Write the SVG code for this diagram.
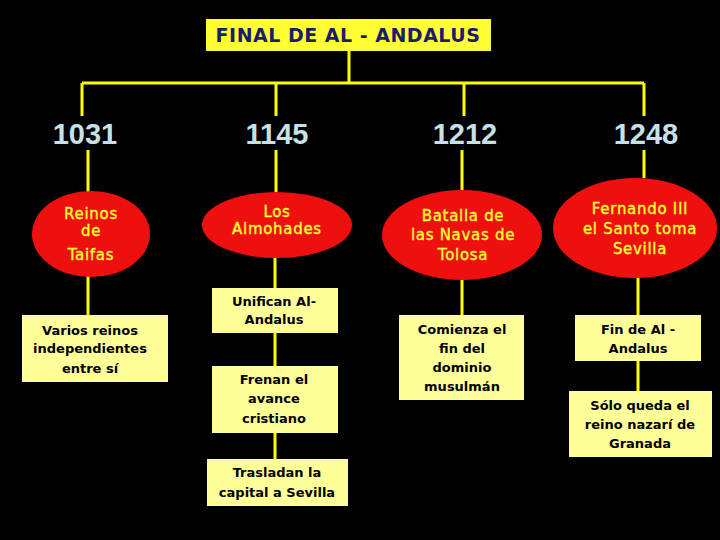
<svg xmlns="http://www.w3.org/2000/svg" width="720" height="540" viewBox="0 0 720 540">
<style>
.ln{stroke:#ffff00;stroke-width:3;fill:none}
.yr{font-family:"Liberation Sans",Arial,sans-serif;font-weight:bold;font-size:29px;fill:#c8e0e8;text-anchor:middle}
.el{fill:#f00f0f}
.et{font-family:"DejaVu Sans",sans-serif;font-size:15px;fill:#ffff33;stroke:#ffff33;stroke-width:0.35;text-anchor:middle;letter-spacing:0.7px}
.bx{fill:#ffff99}
.bt{font-family:"DejaVu Sans",sans-serif;font-weight:bold;font-size:13px;fill:#000;text-anchor:middle}
</style>
<rect width="720" height="540" fill="#000"/>
<g id="connectors">
<path class="ln" d="M349 51V83M82 83H644M82 83V116M276 83V116M464 83V116M644 83V116"/>
<path class="ln" d="M88 150V192M276 150V192M462 150V190M644 150V178"/>
<path class="ln" d="M88 276V315M275 257V288M275 333V366M275 433V459M462 280V315M638 277V315M638 361V391"/>
</g>
<g id="title">
<rect x="206" y="19" width="285" height="32" fill="#ffff33"/>
<text x="348" y="42" font-family="DejaVu Sans,sans-serif" font-size="19" font-weight="bold" fill="#1c1c6c" text-anchor="middle" letter-spacing="0.5">FINAL DE AL - ANDALUS</text>
</g>
<g id="y1031"><text class="yr" x="85" y="144">1031</text></g>
<g id="y1145"><text class="yr" x="277" y="144">1145</text></g>
<g id="y1212"><text class="yr" x="465" y="144">1212</text></g>
<g id="y1248"><text class="yr" x="646" y="144">1248</text></g>
<g id="e1">
<ellipse class="el" cx="91" cy="234" rx="59" ry="43"/>
<text class="et" x="91" y="219">Reinos</text>
<text class="et" x="91" y="236">de</text>
<text class="et" x="91" y="260">Taifas</text>
</g>
<g id="e2">
<ellipse class="el" cx="277" cy="225" rx="75" ry="33"/>
<text class="et" x="277" y="217">Los</text>
<text class="et" x="277" y="234">Almohades</text>
</g>
<g id="e3">
<ellipse class="el" cx="462" cy="235" rx="80" ry="45"/>
<text class="et" x="463" y="221">Batalla de</text>
<text class="et" x="463" y="240">las Navas de</text>
<text class="et" x="463" y="260">Tolosa</text>
</g>
<g id="e4">
<ellipse class="el" cx="635" cy="228" rx="82" ry="50"/>
<text class="et" x="640" y="214">Fernando III</text>
<text class="et" x="640" y="234">el Santo toma</text>
<text class="et" x="640" y="254">Sevilla</text>
</g>
<g id="b1">
<rect class="bx" x="22" y="315" width="146" height="67"/>
<text class="bt" x="90" y="335">Varios reinos</text>
<text class="bt" x="90" y="353">independientes</text>
<text class="bt" x="90" y="373">entre sí</text>
</g>
<g id="b2">
<rect class="bx" x="212" y="288" width="126" height="45"/>
<text class="bt" x="274" y="306">Unifican Al-</text>
<text class="bt" x="274" y="324">Andalus</text>
</g>
<g id="b3">
<rect class="bx" x="212" y="366" width="126" height="67"/>
<text class="bt" x="274" y="384">Frenan el</text>
<text class="bt" x="274" y="403">avance</text>
<text class="bt" x="274" y="423">cristiano</text>
</g>
<g id="b4">
<rect class="bx" x="207" y="459" width="141" height="47"/>
<text class="bt" x="277" y="477">Trasladan la</text>
<text class="bt" x="277" y="497">capital a Sevilla</text>
</g>
<g id="b5">
<rect class="bx" x="399" y="315" width="125" height="85"/>
<text class="bt" x="462" y="334">Comienza el</text>
<text class="bt" x="462" y="353">fin del</text>
<text class="bt" x="462" y="372">dominio</text>
<text class="bt" x="462" y="391">musulmán</text>
</g>
<g id="b6">
<rect class="bx" x="575" y="315" width="126" height="46"/>
<text class="bt" x="638" y="334">Fin de Al -</text>
<text class="bt" x="638" y="353">Andalus</text>
</g>
<g id="b7">
<rect class="bx" x="569" y="391" width="143" height="66"/>
<text class="bt" x="640" y="410">Sólo queda el</text>
<text class="bt" x="640" y="429">reino nazarí de</text>
<text class="bt" x="640" y="448">Granada</text>
</g>
</svg>
